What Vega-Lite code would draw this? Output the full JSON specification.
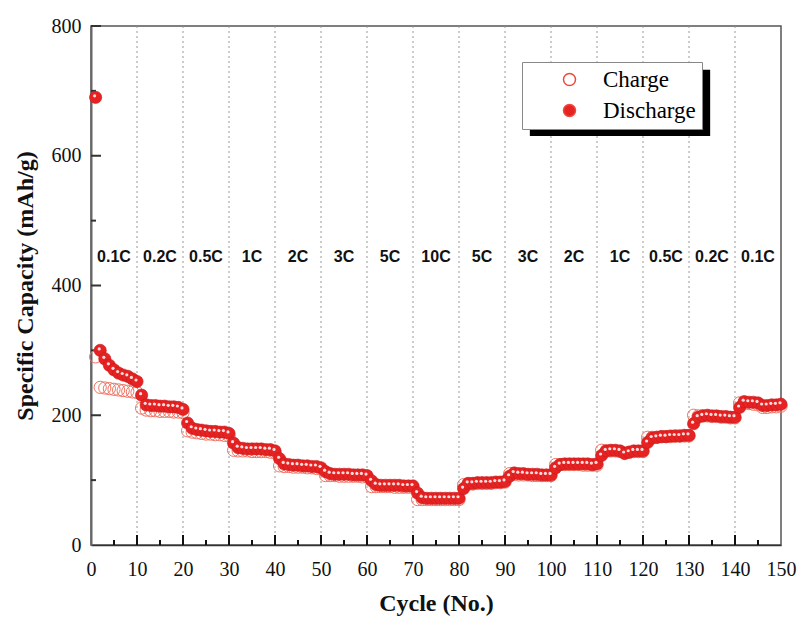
{
  "$schema": "https://vega.github.io/schema/vega-lite/v6.json",
  "width": 690,
  "height": 519,
  "autosize": {"type": "none"},
  "padding": {"left": 91, "top": 26, "right": 19, "bottom": 77},
  "background": "white",
  "config": {
    "view": {"stroke": "#555", "strokeWidth": 1.5},
    "axis": {
      "labelFont": "Liberation Serif",
      "labelFontSize": 20,
      "labelColor": "#111",
      "titleFont": "Liberation Serif",
      "titleFontSize": 24,
      "titleFontWeight": "bold",
      "titleColor": "#111",
      "zindex": 2
    }
  },
  "datasets": {
    "cap": [
      {"cycle": 1, "charge": 290, "discharge": 690},
      {"cycle": 2, "charge": 243, "discharge": 300},
      {"cycle": 3, "charge": 242, "discharge": 287},
      {"cycle": 4, "charge": 241, "discharge": 277},
      {"cycle": 5, "charge": 240, "discharge": 270},
      {"cycle": 6, "charge": 239, "discharge": 265},
      {"cycle": 7, "charge": 238, "discharge": 262},
      {"cycle": 8, "charge": 237, "discharge": 260},
      {"cycle": 9, "charge": 236, "discharge": 256},
      {"cycle": 10, "charge": 235, "discharge": 252},
      {"cycle": 11, "charge": 211, "discharge": 231},
      {"cycle": 12, "charge": 208, "discharge": 216},
      {"cycle": 13, "charge": 207, "discharge": 215},
      {"cycle": 14, "charge": 207, "discharge": 215},
      {"cycle": 15, "charge": 206, "discharge": 214},
      {"cycle": 16, "charge": 206, "discharge": 214},
      {"cycle": 17, "charge": 206, "discharge": 213},
      {"cycle": 18, "charge": 205, "discharge": 213},
      {"cycle": 19, "charge": 205, "discharge": 212},
      {"cycle": 20, "charge": 204, "discharge": 209},
      {"cycle": 21, "charge": 176, "discharge": 188},
      {"cycle": 22, "charge": 174, "discharge": 180},
      {"cycle": 23, "charge": 173, "discharge": 178},
      {"cycle": 24, "charge": 172, "discharge": 177},
      {"cycle": 25, "charge": 171, "discharge": 176},
      {"cycle": 26, "charge": 171, "discharge": 175},
      {"cycle": 27, "charge": 170, "discharge": 175},
      {"cycle": 28, "charge": 170, "discharge": 174},
      {"cycle": 29, "charge": 169, "discharge": 174},
      {"cycle": 30, "charge": 168, "discharge": 172},
      {"cycle": 31, "charge": 146, "discharge": 157},
      {"cycle": 32, "charge": 145, "discharge": 150},
      {"cycle": 33, "charge": 145, "discharge": 149},
      {"cycle": 34, "charge": 145, "discharge": 148},
      {"cycle": 35, "charge": 144, "discharge": 148},
      {"cycle": 36, "charge": 144, "discharge": 148},
      {"cycle": 37, "charge": 144, "discharge": 148},
      {"cycle": 38, "charge": 144, "discharge": 147},
      {"cycle": 39, "charge": 143, "discharge": 147},
      {"cycle": 40, "charge": 142, "discharge": 145},
      {"cycle": 41, "charge": 122, "discharge": 133},
      {"cycle": 42, "charge": 121, "discharge": 125},
      {"cycle": 43, "charge": 121, "discharge": 124},
      {"cycle": 44, "charge": 120, "discharge": 123},
      {"cycle": 45, "charge": 120, "discharge": 123},
      {"cycle": 46, "charge": 120, "discharge": 122},
      {"cycle": 47, "charge": 119, "discharge": 122},
      {"cycle": 48, "charge": 119, "discharge": 121},
      {"cycle": 49, "charge": 118, "discharge": 121},
      {"cycle": 50, "charge": 117, "discharge": 119},
      {"cycle": 51, "charge": 107, "discharge": 113},
      {"cycle": 52, "charge": 107, "discharge": 110},
      {"cycle": 53, "charge": 107, "discharge": 109},
      {"cycle": 54, "charge": 106, "discharge": 109},
      {"cycle": 55, "charge": 106, "discharge": 109},
      {"cycle": 56, "charge": 106, "discharge": 109},
      {"cycle": 57, "charge": 106, "discharge": 108},
      {"cycle": 58, "charge": 106, "discharge": 108},
      {"cycle": 59, "charge": 105, "discharge": 108},
      {"cycle": 60, "charge": 105, "discharge": 107},
      {"cycle": 61, "charge": 90, "discharge": 99},
      {"cycle": 62, "charge": 90, "discharge": 93},
      {"cycle": 63, "charge": 90, "discharge": 92},
      {"cycle": 64, "charge": 90, "discharge": 92},
      {"cycle": 65, "charge": 90, "discharge": 92},
      {"cycle": 66, "charge": 89, "discharge": 92},
      {"cycle": 67, "charge": 89, "discharge": 92},
      {"cycle": 68, "charge": 89, "discharge": 91},
      {"cycle": 69, "charge": 89, "discharge": 91},
      {"cycle": 70, "charge": 89, "discharge": 91},
      {"cycle": 71, "charge": 70, "discharge": 80},
      {"cycle": 72, "charge": 70, "discharge": 73},
      {"cycle": 73, "charge": 70, "discharge": 72},
      {"cycle": 74, "charge": 70, "discharge": 72},
      {"cycle": 75, "charge": 70, "discharge": 72},
      {"cycle": 76, "charge": 70, "discharge": 72},
      {"cycle": 77, "charge": 70, "discharge": 72},
      {"cycle": 78, "charge": 70, "discharge": 72},
      {"cycle": 79, "charge": 70, "discharge": 72},
      {"cycle": 80, "charge": 70, "discharge": 72},
      {"cycle": 81, "charge": 93, "discharge": 87},
      {"cycle": 82, "charge": 94, "discharge": 95},
      {"cycle": 83, "charge": 94, "discharge": 95},
      {"cycle": 84, "charge": 95, "discharge": 96},
      {"cycle": 85, "charge": 95, "discharge": 96},
      {"cycle": 86, "charge": 95, "discharge": 96},
      {"cycle": 87, "charge": 95, "discharge": 96},
      {"cycle": 88, "charge": 96, "discharge": 97},
      {"cycle": 89, "charge": 96, "discharge": 97},
      {"cycle": 90, "charge": 97, "discharge": 98},
      {"cycle": 91, "charge": 110, "discharge": 106},
      {"cycle": 92, "charge": 109, "discharge": 111},
      {"cycle": 93, "charge": 108, "discharge": 110},
      {"cycle": 94, "charge": 108, "discharge": 110},
      {"cycle": 95, "charge": 108, "discharge": 109},
      {"cycle": 96, "charge": 107, "discharge": 109},
      {"cycle": 97, "charge": 107, "discharge": 109},
      {"cycle": 98, "charge": 107, "discharge": 108},
      {"cycle": 99, "charge": 107, "discharge": 108},
      {"cycle": 100, "charge": 107, "discharge": 108},
      {"cycle": 101, "charge": 124, "discharge": 119},
      {"cycle": 102, "charge": 124, "discharge": 124},
      {"cycle": 103, "charge": 124, "discharge": 125},
      {"cycle": 104, "charge": 124, "discharge": 125},
      {"cycle": 105, "charge": 124, "discharge": 125},
      {"cycle": 106, "charge": 124, "discharge": 125},
      {"cycle": 107, "charge": 123, "discharge": 125},
      {"cycle": 108, "charge": 123, "discharge": 125},
      {"cycle": 109, "charge": 123, "discharge": 124},
      {"cycle": 110, "charge": 123, "discharge": 125},
      {"cycle": 111, "charge": 146, "discharge": 138},
      {"cycle": 112, "charge": 145, "discharge": 145},
      {"cycle": 113, "charge": 145, "discharge": 146},
      {"cycle": 114, "charge": 145, "discharge": 146},
      {"cycle": 115, "charge": 144, "discharge": 145},
      {"cycle": 116, "charge": 142, "discharge": 141},
      {"cycle": 117, "charge": 143, "discharge": 143},
      {"cycle": 118, "charge": 144, "discharge": 145},
      {"cycle": 119, "charge": 144, "discharge": 145},
      {"cycle": 120, "charge": 144, "discharge": 145},
      {"cycle": 121, "charge": 166, "discharge": 158},
      {"cycle": 122, "charge": 166, "discharge": 165},
      {"cycle": 123, "charge": 166, "discharge": 166},
      {"cycle": 124, "charge": 167, "discharge": 167},
      {"cycle": 125, "charge": 167, "discharge": 167},
      {"cycle": 126, "charge": 167, "discharge": 168},
      {"cycle": 127, "charge": 168, "discharge": 168},
      {"cycle": 128, "charge": 168, "discharge": 168},
      {"cycle": 129, "charge": 168, "discharge": 169},
      {"cycle": 130, "charge": 168, "discharge": 169},
      {"cycle": 131, "charge": 200, "discharge": 187},
      {"cycle": 132, "charge": 199, "discharge": 197},
      {"cycle": 133, "charge": 199, "discharge": 199},
      {"cycle": 134, "charge": 199, "discharge": 200},
      {"cycle": 135, "charge": 198, "discharge": 199},
      {"cycle": 136, "charge": 198, "discharge": 199},
      {"cycle": 137, "charge": 197, "discharge": 198},
      {"cycle": 138, "charge": 197, "discharge": 198},
      {"cycle": 139, "charge": 196, "discharge": 197},
      {"cycle": 140, "charge": 196, "discharge": 197},
      {"cycle": 141, "charge": 219, "discharge": 212},
      {"cycle": 142, "charge": 219, "discharge": 221},
      {"cycle": 143, "charge": 218, "discharge": 220},
      {"cycle": 144, "charge": 217, "discharge": 220},
      {"cycle": 145, "charge": 216, "discharge": 219},
      {"cycle": 146, "charge": 212, "discharge": 215},
      {"cycle": 147, "charge": 212, "discharge": 215},
      {"cycle": 148, "charge": 213, "discharge": 216},
      {"cycle": 149, "charge": 213, "discharge": 216},
      {"cycle": 150, "charge": 214, "discharge": 217}
    ],
    "rates": [
      {"cycle": 5, "rate": "0.1C"},
      {"cycle": 15, "rate": "0.2C"},
      {"cycle": 25, "rate": "0.5C"},
      {"cycle": 35, "rate": "1C"},
      {"cycle": 45, "rate": "2C"},
      {"cycle": 55, "rate": "3C"},
      {"cycle": 65, "rate": "5C"},
      {"cycle": 75, "rate": "10C"},
      {"cycle": 85, "rate": "5C"},
      {"cycle": 95, "rate": "3C"},
      {"cycle": 105, "rate": "2C"},
      {"cycle": 115, "rate": "1C"},
      {"cycle": 125, "rate": "0.5C"},
      {"cycle": 135, "rate": "0.2C"},
      {"cycle": 145, "rate": "0.1C"}
    ],
    "bounds": [
      {"cycle": 10}, {"cycle": 20}, {"cycle": 30}, {"cycle": 40}, {"cycle": 50},
      {"cycle": 60}, {"cycle": 70}, {"cycle": 80}, {"cycle": 90}, {"cycle": 100},
      {"cycle": 110}, {"cycle": 120}, {"cycle": 130}, {"cycle": 140}
    ],
    "ticksx": [
      {"cycle": 5, "len": 7.7}, {"cycle": 10, "len": 15.4}, {"cycle": 15, "len": 7.7}, {"cycle": 20, "len": 15.4},
      {"cycle": 25, "len": 7.7}, {"cycle": 30, "len": 15.4}, {"cycle": 35, "len": 7.7}, {"cycle": 40, "len": 15.4},
      {"cycle": 45, "len": 7.7}, {"cycle": 50, "len": 15.4}, {"cycle": 55, "len": 7.7}, {"cycle": 60, "len": 15.4},
      {"cycle": 65, "len": 7.7}, {"cycle": 70, "len": 15.4}, {"cycle": 75, "len": 7.7}, {"cycle": 80, "len": 15.4},
      {"cycle": 85, "len": 7.7}, {"cycle": 90, "len": 15.4}, {"cycle": 95, "len": 7.7}, {"cycle": 100, "len": 15.4},
      {"cycle": 105, "len": 7.7}, {"cycle": 110, "len": 15.4}, {"cycle": 115, "len": 7.7}, {"cycle": 120, "len": 15.4},
      {"cycle": 125, "len": 7.7}, {"cycle": 130, "len": 15.4}, {"cycle": 135, "len": 7.7}, {"cycle": 140, "len": 15.4},
      {"cycle": 145, "len": 7.7}
    ],
    "ticksy": [
      {"capacity": 100, "len": 1.09}, {"capacity": 200, "len": 2.17}, {"capacity": 300, "len": 1.09},
      {"capacity": 400, "len": 2.17}, {"capacity": 500, "len": 1.09}, {"capacity": 600, "len": 2.17},
      {"capacity": 700, "len": 1.09}, {"capacity": 800, "len": 2.17}
    ]
  },
  "layer": [
    {
      "data": {"name": "bounds"},
      "mark": {"type": "rule", "color": "#999", "strokeDash": [2, 3], "strokeWidth": 1},
      "encoding": {
        "x": {
          "field": "cycle", "type": "quantitative",
          "scale": {"domain": [0, 150], "nice": false, "zero": false},
          "axis": {
            "title": "Cycle (No.)",
            "values": [0,10,20,30,40,50,60,70,80,90,100,110,120,130,140,150],
            "labelOverlap": false,
            "labelFlush": false,
            "labelPadding": 14,
            "ticks": false,
            "domainColor": "#333",
            "domainWidth": 1.5,
            "grid": false,
            "titlePadding": 12
          }
        }
      }
    },
    {
      "data": {"name": "ticksx"},
      "mark": {"type": "rule", "color": "#111", "strokeWidth": 2},
      "encoding": {
        "x": {"field": "cycle", "type": "quantitative", "title": "Cycle (No.)"},
        "y": {"field": "len", "type": "quantitative", "title": "Specific Capacity (mAh/g)"},
        "y2": {"datum": 0}
      }
    },
    {
      "data": {"name": "ticksy"},
      "mark": {"type": "rule", "color": "#333", "strokeWidth": 2},
      "encoding": {
        "y": {"field": "capacity", "type": "quantitative", "title": "Specific Capacity (mAh/g)"},
        "x": {"field": "len", "type": "quantitative", "title": "Cycle (No.)"},
        "x2": {"datum": 0}
      }
    },
    {
      "data": {"name": "cap"},
      "mark": {"type": "point", "shape": "circle", "filled": true, "size": 150, "strokeWidth": 1, "stroke": "#f07464", "opacity": 1},
      "encoding": {
        "x": {"field": "cycle", "type": "quantitative", "title": "Cycle (No.)"},
        "y": {
          "field": "charge", "type": "quantitative",
          "title": "Specific Capacity (mAh/g)",
          "scale": {"domain": [0, 800], "nice": false},
          "axis": {
            "values": [0,200,400,600,800],
            "labelOverlap": false,
            "labelFlush": false,
            "labelPadding": 10,
            "ticks": false,
            "domainColor": "#666",
            "domainWidth": 2,
            "grid": false,
            "titlePadding": 14
          }
        },
        "fill": {
          "datum": "Charge",
          "scale": {"domain": ["Charge", "Discharge"], "range": ["transparent", "#e62222"]},
          "legend": {
            "title": null,
            "orient": "none",
            "legendX": 431,
            "legendY": 36,
            "fillColor": "white",
            "strokeColor": "#888",
            "padding": 6,
            "labelFont": "Liberation Serif",
            "labelFontSize": 23,
            "labelColor": "#000",
            "symbolSize": 144,
            "symbolType": "circle",
            "symbolStrokeColor": "#ec4a3c",
            "symbolOffset": 30,
            "labelOffset": 22,
            "rowPadding": 7
          }
        }
      }
    },
    {
      "data": {"name": "cap"},
      "mark": {"type": "point", "shape": "circle", "filled": true, "size": 150, "opacity": 1, "stroke": "#c81a1a", "strokeWidth": 0.6},
      "encoding": {
        "x": {"field": "cycle", "type": "quantitative", "title": "Cycle (No.)"},
        "y": {"field": "discharge", "type": "quantitative", "title": "Specific Capacity (mAh/g)"},
        "fill": {"datum": "Discharge"}
      }
    },
    {
      "data": {"name": "cap"},
      "mark": {"type": "point", "shape": "circle", "filled": true, "size": 10, "color": "white", "opacity": 0.85, "xOffset": -1, "yOffset": -1.5},
      "encoding": {
        "x": {"field": "cycle", "type": "quantitative", "title": "Cycle (No.)"},
        "y": {"field": "discharge", "type": "quantitative", "title": "Specific Capacity (mAh/g)"}
      }
    },
    {
      "data": {"values": [{"a": 0}]},
      "mark": {"type": "rect", "color": "black"},
      "encoding": {
        "x": {"datum": 95.4, "type": "quantitative"},
        "x2": {"datum": 134.6},
        "y": {"datum": 732.6, "type": "quantitative"},
        "y2": {"datum": 630.4}
      }
    },
    {
      "data": {"name": "rates"},
      "mark": {"type": "text", "font": "Liberation Sans", "fontWeight": "bold", "fontSize": 16, "color": "#111"},
      "encoding": {
        "x": {"field": "cycle", "type": "quantitative", "title": "Cycle (No.)"},
        "y": {"datum": 444, "type": "quantitative"},
        "text": {"field": "rate"}
      }
    }
  ]
}
